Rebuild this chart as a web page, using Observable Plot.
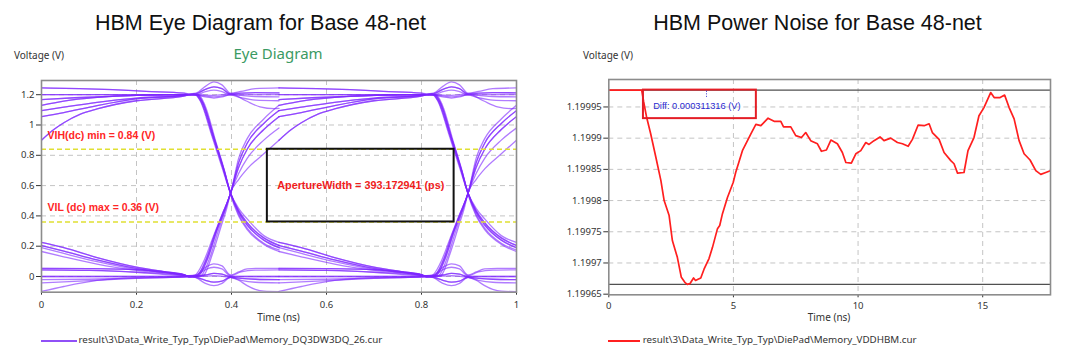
<!DOCTYPE html>
<html>
<head>
<meta charset="utf-8">
<script src="https://cdn.jsdelivr.net/npm/d3@7"></script>
<script src="https://cdn.jsdelivr.net/npm/@observablehq/plot@0.6"></script>
<style>
  html, body { margin: 0; padding: 0; background: #fff; }
  #wrap { position: relative; width: 1080px; height: 362px; overflow: hidden; background: #fff; }
  .panel { position: absolute; top: 0; }
  .t { position: absolute; white-space: nowrap; line-height: 1; }
  .title { font-family: "Liberation Sans", Arial, sans-serif; font-size: 21.5px; color: #111; transform: translateX(-50%); }
  .sub { font-family: "Noto Sans", sans-serif; font-size: 15px; color: #3b9a63; transform: translateX(-50%); }
  .ylab { font-family: "Noto Sans", sans-serif; font-size: 10px; color: #333; }
  .xlab { font-family: "Noto Sans", sans-serif; font-size: 10px; color: #333; transform: translateX(-50%); }
  .leg { font-family: "Noto Sans", sans-serif; font-size: 9.8px; color: #333; }
  .legline { position: absolute; height: 2px; }
</style>
</head>
<body>
<div id="wrap">
  <div id="left" class="panel" style="left:0px"></div>
  <div id="right" class="panel" style="left:540px"></div>
</div>
<script>
// ---------- Left panel: eye diagram data ----------
const xTicksL = [0, 0.2, 0.4, 0.6, 0.8, 1];
const xLabelsL = ["0", "0.2", "0.4", "0.6", "0.8", "1"];
const yTicksL = [0, 0.2, 0.4, 0.6, 0.8, 1, 1.2];
const yLabelsL = ["0", "0.2", "0.4", "0.6", "0.8", "1", "1.2"];
const levels = [0.84, 0.36];
const levelLabels = ["VIH(dc) min = 0.84 (V)", "VIL (dc) max = 0.36 (V)"];
const apertureStart = 0.4755;
const apertureWidthNs = 0.393172941;
const apertureLabel = "ApertureWidth = 393.172941 (ps)";
const uiOffsets = [0, 0.5];

// start-of-bit settling segments [time in UI window (ns), volts]
const hA = [[0,1.245],[0.08,1.24],[0.15,1.233],[0.22,1.222],[0.30,1.21]];
const hB = [[0,1.2],[0.15,1.2],[0.30,1.2]];
const hC = [[0,1.168],[0.07,1.18],[0.15,1.19],[0.22,1.197],[0.30,1.2]];
const hD = [[0,1.13],[0.047,1.158],[0.117,1.182],[0.2,1.196],[0.30,1.2]];
const hE = [[0,1.095],[0.047,1.118],[0.117,1.15],[0.2,1.178],[0.30,1.196]];
const hF = [[0,1.055],[0.047,1.082],[0.117,1.128],[0.2,1.172],[0.30,1.195]];
const hG = [[0,0.9],[0.026,0.97],[0.047,1.015],[0.082,1.072],[0.117,1.106],[0.2,1.16],[0.30,1.19]];
const lA = [[0,0.225],[0.047,0.19],[0.117,0.125],[0.2,0.062],[0.258,0.032],[0.30,0.012]];
const lB = [[0,0.205],[0.047,0.168],[0.117,0.11],[0.2,0.054],[0.258,0.027],[0.30,0.01]];
const lC = [[0,0.19],[0.047,0.152],[0.117,0.098],[0.2,0.047],[0.30,0.008]];
const lD = [[0,0.165],[0.047,0.13],[0.117,0.082],[0.2,0.04],[0.30,0.006]];
const lE = [[0,0.054],[0.1,0.052],[0.2,0.045],[0.26,0.03],[0.30,0.01]];
const lF = [[0,0.044],[0.1,0.04],[0.2,0.028],[0.30,0.006]];
const lG = [[0,0],[0.15,0],[0.30,0]];
const lH = [[0,-0.021],[0.1,-0.018],[0.2,-0.01],[0.30,-0.002]];
const lI = [[0,-0.042],[0.047,-0.036],[0.117,-0.025],[0.2,-0.012],[0.30,-0.003]];
const lJ = [[0,-0.099],[0.047,-0.066],[0.117,-0.026],[0.2,-0.008],[0.30,-0.002]];

// end-of-bit segments: falling edges
const fA = [[0.31,1.203],[0.321,1.206],[0.334,1.16],[0.358,0.935],[0.38,0.72],[0.398,0.55],[0.415,0.45],[0.433,0.38],[0.468,0.27],[0.5,0.225]];
const fB = [[0.31,1.2],[0.323,1.204],[0.336,1.155],[0.36,0.93],[0.382,0.715],[0.398,0.55],[0.415,0.435],[0.433,0.355],[0.468,0.255],[0.5,0.205]];
const fC = [[0.31,1.2],[0.326,1.202],[0.339,1.15],[0.363,0.915],[0.384,0.705],[0.398,0.55],[0.415,0.425],[0.433,0.34],[0.468,0.24],[0.5,0.19]];
const fD = [[0.31,1.2],[0.328,1.2],[0.341,1.14],[0.365,0.9],[0.385,0.695],[0.398,0.55],[0.415,0.41],[0.433,0.32],[0.468,0.22],[0.5,0.175]];
const fE = [[0.31,1.2],[0.331,1.198],[0.344,1.13],[0.367,0.89],[0.386,0.69],[0.398,0.54],[0.415,0.40],[0.433,0.31],[0.468,0.212],[0.5,0.165]];
// rising edges
const rA = [[0.31,0],[0.322,0.006],[0.34,0.09],[0.36,0.25],[0.38,0.41],[0.398,0.55],[0.415,0.78],[0.433,0.91],[0.468,1.04],[0.5,1.13]];
const rB = [[0.31,0],[0.326,0.004],[0.345,0.1],[0.365,0.28],[0.382,0.42],[0.398,0.55],[0.415,0.75],[0.433,0.88],[0.468,1.01],[0.5,1.095]];
const rC = [[0.31,0],[0.33,0.005],[0.35,0.12],[0.37,0.31],[0.385,0.43],[0.398,0.55],[0.415,0.72],[0.433,0.84],[0.468,0.97],[0.5,1.055]];
const rD = [[0.31,0],[0.335,0.004],[0.355,0.13],[0.372,0.3],[0.386,0.43],[0.398,0.55],[0.415,0.68],[0.433,0.78],[0.468,0.9],[0.5,0.98]];
const rE = [[0.31,0],[0.34,0.005],[0.36,0.15],[0.378,0.33],[0.39,0.45],[0.398,0.55],[0.415,0.64],[0.433,0.71],[0.468,0.81],[0.5,0.9]];
// stay high (crosstalk bumps)
const uA = [[0.31,1.206],[0.325,1.21],[0.345,1.255],[0.363,1.285],[0.38,1.265],[0.398,1.21],[0.42,1.222],[0.45,1.24],[0.5,1.245]];
const uB = [[0.31,1.2],[0.325,1.205],[0.345,1.235],[0.363,1.252],[0.38,1.24],[0.398,1.205],[0.42,1.21],[0.45,1.214],[0.5,1.212]];
const uC = [[0.31,1.2],[0.325,1.2],[0.345,1.22],[0.363,1.23],[0.38,1.22],[0.398,1.2],[0.45,1.2],[0.5,1.2]];
const uD = [[0.31,1.2],[0.325,1.198],[0.345,1.185],[0.363,1.178],[0.38,1.185],[0.398,1.2],[0.42,1.195],[0.45,1.188],[0.5,1.186]];
const uE = [[0.31,1.2],[0.33,1.198],[0.363,1.185],[0.398,1.198],[0.42,1.18],[0.45,1.164],[0.5,1.16]];
const uF = [[0.31,1.2],[0.33,1.2],[0.363,1.195],[0.398,1.205],[0.43,1.16],[0.46,1.12],[0.49,1.108],[0.5,1.11]];
// stay low (crosstalk bumps)
const dA = [[0.31,0.005],[0.325,0.01],[0.345,0.06],[0.363,0.084],[0.38,0.07],[0.398,0.01],[0.415,0.03],[0.433,0.05],[0.46,0.054],[0.5,0.054]];
const dB = [[0.31,0.005],[0.325,0.008],[0.345,0.045],[0.363,0.061],[0.38,0.05],[0.398,0.005],[0.42,0.03],[0.45,0.042],[0.5,0.044]];
const dC = [[0.31,0],[0.345,0.01],[0.363,0.02],[0.38,0.015],[0.398,0],[0.45,0],[0.5,0]];
const dD = [[0.31,0],[0.325,-0.005],[0.345,-0.025],[0.363,-0.037],[0.38,-0.03],[0.398,-0.005],[0.42,-0.012],[0.45,-0.018],[0.5,-0.021]];
const dE = [[0.31,0],[0.325,-0.008],[0.345,-0.045],[0.363,-0.06],[0.38,-0.045],[0.398,-0.005],[0.42,-0.025],[0.45,-0.038],[0.5,-0.042]];
const dF = [[0.31,0],[0.33,0],[0.363,0.005],[0.398,-0.005],[0.415,-0.025],[0.433,-0.06],[0.45,-0.085],[0.468,-0.097],[0.5,-0.1]];

const eyeTraces = [
  [hB, fA], [hC, fB], [hD, fC], [hE, fD], [hF, fE], [hA, fC], [hG, fB],
  [hA, uA], [hB, uB], [hC, uC], [hD, uD], [hE, uE], [hF, uF], [hG, uB],
  [lA, rA], [lB, rB], [lC, rC], [lD, rD], [lE, rE], [lF, rB], [lG, rC],
  [lE, dA], [lF, dB], [lG, dC], [lH, dD], [lI, dE], [lJ, dF], [lA, dC], [lB, dD]
];

// ---------- Right panel: power noise data ----------
const xTicksR = [0, 5, 10, 15];
const yTicksR = [1.19965, 1.1997, 1.19975, 1.1998, 1.19985, 1.1999, 1.19995];
const yLabelsR = ["1.19965", "1.1997", "1.19975", "1.1998", "1.19985", "1.1999", "1.19995"];
const noiseT = [0,1.32,1.40,1.52,1.68,1.89,2.09,2.22,2.42,2.55,2.75,2.91,3.05,3.15,3.26,3.40,3.48,3.58,3.69,3.82,4.02,4.16,4.36,4.45,4.56,4.76,4.99,5.09,5.36,5.70,5.90,6.10,6.39,6.63,6.90,7.01,7.30,7.50,7.73,7.90,8.10,8.37,8.53,8.73,8.91,9.17,9.37,9.51,9.73,9.91,10.11,10.31,10.44,10.64,10.88,11.04,11.31,11.58,11.78,12.01,12.18,12.41,12.65,12.85,12.98,13.25,13.45,13.72,13.85,13.99,14.25,14.41,14.65,14.85,15.05,15.32,15.46,15.70,15.88,16.06,16.26,16.46,16.66,16.90,17.13,17.33,17.53,17.72];
const noiseV = [1.199977,1.199977,1.199958,1.199933,1.199907,1.199869,1.199832,1.1998,1.199776,1.199736,1.199709,1.199677,1.199669,1.1996657,1.199667,1.199676,1.199672,1.199674,1.199676,1.19969,1.199707,1.199725,1.199755,1.19976,1.199779,1.199805,1.199829,1.199845,1.19988,1.199907,1.199922,1.19992,1.199932,1.199927,1.199927,1.199918,1.199918,1.199904,1.199901,1.199909,1.199896,1.199891,1.199879,1.199881,1.199897,1.199891,1.199877,1.199861,1.19986,1.199875,1.19988,1.199893,1.19989,1.199896,1.199902,1.199896,1.1999,1.199893,1.199891,1.199887,1.199898,1.199921,1.19992,1.199923,1.199909,1.199898,1.199877,1.199864,1.199859,1.199844,1.199845,1.19988,1.199901,1.199936,1.199949,1.199973,1.199965,1.199965,1.199969,1.199949,1.199931,1.199896,1.199875,1.199865,1.199848,1.199842,1.199845,1.199848];
const vMax = 1.199977;
const diffV = 0.000311316;
const diffLabel = "Diff: 0.000311316 (V)";
const diffBoxT = [1.39, 5.92];
const diffBoxBottomV = 1.1999313;
const markerT = 3.92;

// ---------- build tables ----------
const eyeRows = [];
eyeTraces.forEach(([s, e], i) => {
  uiOffsets.forEach((off, k) => {
    for (const [t, v] of s.concat(e)) eyeRows.push({t: t + off, v, id: i + "-" + k});
  });
});
const noiseRows = noiseT.map((t, i) => ({t, v: noiseV[i]}));
const vMin = vMax - diffV;

const gridStyle = {stroke: "#c4c4c4", strokeOpacity: 1, strokeDasharray: "5,4", strokeWidth: 1};
const baseStyle = {fontFamily: "'Noto Sans', sans-serif", fontSize: "9.5px", color: "#333", background: "transparent", overflow: "visible"};

const left = Plot.plot({
  width: 540, height: 362,
  marginLeft: 41, marginRight: 24, marginTop: 80, marginBottom: 70.3,
  style: baseStyle,
  x: {domain: [0, 1], ticks: xTicksL, tickFormat: d => xLabelsL[xTicksL.indexOf(d)], tickSize: 3, tickPadding: 6.5, label: null},
  y: {domain: [-0.1036, 1.2937], ticks: yTicksL, tickFormat: d => yLabelsL[yTicksL.indexOf(d)], tickSize: 5, tickPadding: 2, label: null},
  marks: [
    Plot.gridX(xTicksL.slice(1, -1), gridStyle),
    Plot.gridY(yTicksL, gridStyle),
    Plot.line(eyeRows, {x: "t", y: "v", z: "id", stroke: "#7d25ff", strokeWidth: 1.3, strokeOpacity: 0.6, curve: "monotone-x", clip: true}),
    Plot.ruleY(levels, {stroke: "#e0e033", strokeWidth: 1.5, strokeDasharray: "5,3"}),
    Plot.rect([{x1: apertureStart, x2: apertureStart + apertureWidthNs, y1: levels[1], y2: levels[0]}],
      {x1: "x1", x2: "x2", y1: "y1", y2: "y2", fill: "none", stroke: "#111", strokeWidth: 2}),
    Plot.text(levels.map((v, i) => ({v, label: levelLabels[i]})),
      {y: "v", text: "label", frameAnchor: "left", dx: 6, dy: -14, textAnchor: "start", lineAnchor: "middle",
       fill: "#ff2626", fontWeight: "bold", fontSize: 10.5, fontFamily: "'Liberation Sans', Arial, sans-serif"}),
    Plot.text([{x: apertureStart + apertureWidthNs / 2, y: (levels[0] + levels[1]) / 2}],
      {x: "x", y: "y", text: () => apertureLabel, textAnchor: "middle", lineAnchor: "middle",
       fill: "#f01c1c", fontWeight: "bold", fontSize: 10.8, fontFamily: "'Liberation Sans', Arial, sans-serif"}),
    Plot.frame({stroke: "#8c8c8c", strokeWidth: 1.6})
  ]
});
document.getElementById("left").appendChild(left);

const right = Plot.plot({
  width: 540, height: 362,
  marginLeft: 68.3, marginRight: 30, marginTop: 79, marginBottom: 67.7,
  style: baseStyle,
  x: {domain: [0, 17.72], ticks: xTicksR, tickFormat: d => String(d), tickSize: 3, tickPadding: 4.5, label: null},
  y: {domain: [1.199649, 1.199994], ticks: yTicksR, tickFormat: d => yLabelsR[yTicksR.indexOf(d)], tickSize: 5, tickPadding: 2, label: null},
  marks: [
    Plot.gridX(xTicksR.slice(1), gridStyle),
    Plot.gridY(yTicksR.slice(1), gridStyle),
    Plot.ruleY([vMax, vMin], {stroke: "#505050", strokeWidth: 1.3}),
    Plot.line(noiseRows, {x: "t", y: "v", stroke: "#ff1f1f", strokeWidth: 1.7, clip: true}),
    Plot.rect([{x1: diffBoxT[0], x2: diffBoxT[1], y1: diffBoxBottomV, y2: vMax}],
      {x1: "x1", x2: "x2", y1: "y1", y2: "y2", fill: "none", stroke: "#e41e26", strokeWidth: 2}),
    Plot.ruleX([markerT], {y1: vMax - 0.000002, y2: vMax - 0.000013, stroke: "#3a3ad0", strokeDasharray: "1,1.5"}),
    Plot.text([{x: (diffBoxT[0] + diffBoxT[1]) / 2, y: (diffBoxBottomV + vMax) / 2}],
      {x: "x", y: "y", text: () => diffLabel, dx: -3, dy: 2, textAnchor: "middle", lineAnchor: "middle",
       fill: "#2a2ad0", fontSize: 9.3, fontFamily: "'Liberation Sans', Arial, sans-serif"}),
    Plot.frame({stroke: "#8c8c8c", strokeWidth: 1.6})
  ]
});
document.getElementById("right").appendChild(right);

// ---------- HTML texts (titles, axis names, legends) ----------
const wrap = document.getElementById("wrap");
function addText(cls, txt, x, top) {
  const d = document.createElement("div");
  d.className = "t " + cls;
  d.textContent = txt;
  d.style.left = x + "px";
  d.style.top = top + "px";
  wrap.appendChild(d);
  return d;
}
function addLine(x1, x2, y, color) {
  const d = document.createElement("div");
  d.className = "legline";
  d.style.left = x1 + "px";
  d.style.width = (x2 - x1) + "px";
  d.style.top = y + "px";
  d.style.backgroundColor = color;
  wrap.appendChild(d);
}
addText("title", "HBM Eye Diagram for Base 48-net", 260.5, 12.8);
addText("title", "HBM Power Noise for Base 48-net", 817.5, 12.8);
addText("sub", "Eye Diagram", 278, 45.7);
addText("ylab", "Voltage (V)", 14, 49.6);
addText("ylab", "Voltage (V)", 583, 49.6);
addText("xlab", "Time (ns)", 278.5, 312.1);
addText("xlab", "Time (ns)", 829, 312.1);
addLine(41, 77, 340, "#9050f7");
addText("leg", "result\\3\\Data_Write_Typ_Typ\\DiePad\\Memory_DQ3DW3DQ_26.cur", 78.5, 335.3);
addLine(608, 640, 340, "#ff2020");
addText("leg", "result\\3\\Data_Write_Typ_Typ\\DiePad\\Memory_VDDHBM.cur", 642.7, 335.3);
</script>
</body>
</html>
